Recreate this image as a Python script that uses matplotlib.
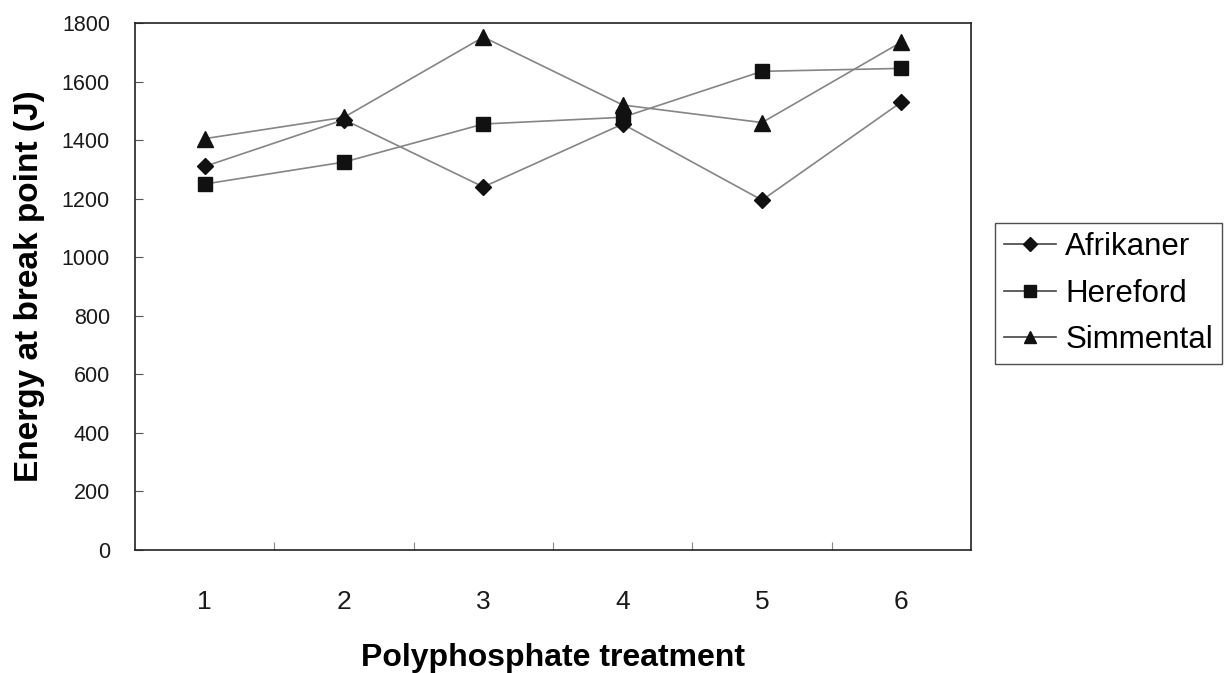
import matplotlib.pyplot as plt
from matplotlib.lines import Line2D

plt.rcParams["font.family"] = ["Liberation Sans", "DejaVu Sans"]

# energy at break point (J) per polyphosphate treatment
treatments = [1, 2, 3, 4, 5, 6]
afrikaner = [1310, 1470, 1240, 1455, 1195, 1530]
hereford = [1250, 1325, 1455, 1478, 1635, 1645]
simmental = [1405, 1478, 1752, 1520, 1460, 1735]

series = [
    ("Afrikaner", afrikaner, "D", 8.5),
    ("Hereford", hereford, "s", 10.5),
    ("Simmental", simmental, "^", 11),
]

fig = plt.figure(figsize=(12.25, 6.73), dpi=100)
ax = fig.add_axes([0.1102, 0.1828, 0.6825, 0.783])

handles = []
for name, vals, mk, ms in series:
    ax.plot(treatments, vals, color="#858585", lw=1.2, zorder=2)
    ax.plot(treatments, vals, ls="none", marker=mk, ms=ms,
            color="#111111", zorder=3)
    handles.append(Line2D([], [], color="#444444", lw=1.2, marker=mk,
                          ms=ms * 0.85, mfc="#111111", mec="#111111",
                          label=name))

ax.set_xlim(0.5, 6.5)
ax.set_ylim(0, 1800)
ax.set_yticks(range(0, 1801, 200))

# category separators as ticks, labels centred on each category
ax.set_xticks([1.5, 2.5, 3.5, 4.5, 5.5])
ax.set_xticklabels([])
ax.set_xticks(treatments, minor=True)
ax.set_xticklabels([str(t) for t in treatments], minor=True)
ax.tick_params(axis="x", which="major", direction="in", length=6,
               width=0.8, color="#888888")
ax.tick_params(axis="x", which="minor", length=0, pad=29,
               labelsize=19, labelcolor="#1a1a1a")
ax.tick_params(axis="y", direction="in", length=6, width=0.8,
               color="#555555", pad=18, labelsize=15.5,
               labelcolor="#1a1a1a")

for sp in ax.spines.values():
    sp.set_linewidth(1.2)
    sp.set_color("#222222")

ax.set_xlabel("Polyphosphate treatment", fontsize=23, fontweight="bold",
              labelpad=21)
ax.set_ylabel("Energy at break point (J)", fontsize=24, fontweight="bold",
              labelpad=12)

leg = fig.legend(handles=handles, loc="upper left",
                 bbox_to_anchor=(995 / 1225, 1 - 223 / 673),
                 borderaxespad=0, fontsize=22.5, frameon=True,
                 fancybox=False, edgecolor="#222222", borderpad=0.3,
                 labelspacing=0.52, handlelength=1.65, handletextpad=0.3)
leg.get_frame().set_linewidth(1.0)

fig.savefig("out.png", dpi=100, facecolor="white")
